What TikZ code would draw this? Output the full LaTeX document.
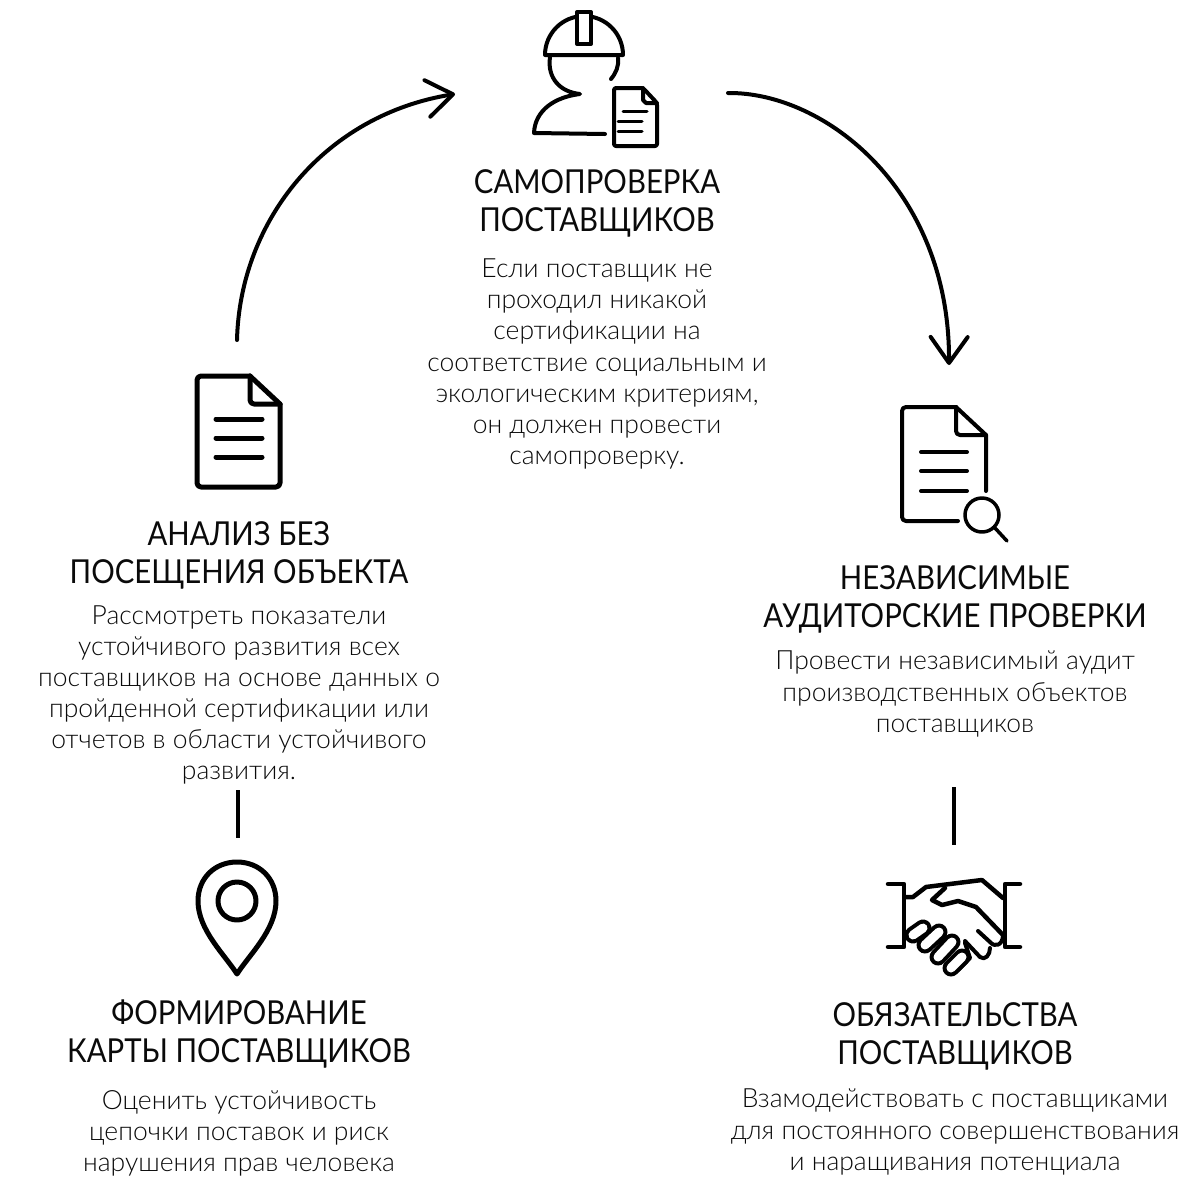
\documentclass[tikz,border=0pt]{standalone}
\usepackage{fontspec}
\setmainfont{Lato}[UprightFont=* Light]
\newfontfamily\titlefont{Lato}[FakeStretch=0.89]
\usepackage{xcolor}
\definecolor{InkBlack}{HTML}{000000}
\definecolor{TextBlack}{HTML}{0A0A0A}
\usepackage{tikz}
\usetikzlibrary{positioning,arrows.meta}

\tikzset{
  icon/.style={line width=#1, color=InkBlack, line cap=round, line join=round},
  icon/.default=4pt,
  finger/.style={line width=4pt, color=InkBlack, double=white, double distance=9pt, line cap=round},
  flow/.style={line width=4pt, color=InkBlack, line cap=round, -{Straight Barb[length=26pt,width=37pt,line width=4pt,round]}},
  divider/.style={line width=3.5pt, color=InkBlack},
  title/.style={font=\titlefont\fontsize{33pt}{38pt}\selectfont, color=TextBlack, align=center, inner sep=0pt},
  body/.style={font=\fontsize{26.5pt}{31.1pt}\selectfont, color=TextBlack, align=center, inner sep=0pt},
}

\begin{document}
\begin{tikzpicture}[x=1pt, y=-1pt]
    \useasboundingbox (0,0) rectangle (1200,1200);

    % Titles
    \node[title] (selfcheck) at (597,203) {САМОПРОВЕРКА\\ПОСТАВЩИКОВ};
    \node[title] (analysis) at (239,555) {АНАЛИЗ БЕЗ\\ПОСЕЩЕНИЯ ОБЪЕКТА};
    \node[title] (audit) at (955,599) {НЕЗАВИСИМЫЕ\\АУДИТОРСКИЕ ПРОВЕРКИ};
    \node[title] (mapping) at (239,1034) {ФОРМИРОВАНИЕ\\КАРТЫ ПОСТАВЩИКОВ};
    \node[title] (commit) at (955,1036) {ОБЯЗАТЕЛЬСТВА\\ПОСТАВЩИКОВ};

    % Body texts
    \node[body] (selfchecktext) at (597,364) {Если поставщик не\\проходил никакой\\сертификации на\\соответствие социальным и\\экологическим критериям,\\он должен провести\\самопроверку.};
    \node[body] (analysistext) at (239,695) {Рассмотреть показатели\\устойчивого развития всех\\поставщиков на основе данных о\\пройденной сертификации или\\отчетов в области устойчивого\\развития.};
    \node[body] (audittext) at (955,694) {Провести независимый аудит\\производственных объектов\\поставщиков};
    \node[body] (mappingtext) at (239,1133) {Оценить устойчивость\\цепочки поставок и риск\\нарушения прав человека};
    \node[body] (committext) at (955,1132) {Взамодействовать с поставщиками\\для постоянного совершенствования\\и наращивания потенциала};

    % Connectors
    \coordinate (leftstart) at (237,340);
    \coordinate (leftend) at (455,94);
    \coordinate (rightstart) at (728,93);
    \coordinate (rightend) at (949,365);
    \coordinate (leftbar) at (238,790);
    \coordinate (leftbarend) at (238,838);
    \coordinate (rightbar) at (954,787);
    \coordinate (rightbarend) at (954,845);
    \draw[flow] (leftstart) .. controls (240,220) and (325,115) .. (leftend);
    \draw[flow] (rightstart) .. controls (825,92) and (950,190) .. (rightend);
    \draw[divider] (leftbar) -- (leftbarend);
    \draw[divider] (rightbar) -- (rightbarend);

    % Worker icon
    \draw[icon] (545,55) arc (180:360:39) -- cycle;
    \draw[icon, fill=white] (577,12) rectangle (591,44);
    \draw[icon] (550,57) .. controls (547,78) and (560,92) .. (580,94)
      .. controls (555,97) and (535,110) .. (534,133) -- (605,134);
    \draw[icon] (618,58) .. controls (619,66) and (616,73) .. (611,79);
    \draw[icon, rounded corners=2pt] (643,88) -- (614,88) -- (614,146) -- (657,146) -- (657,103) -- cycle;
    \draw[icon] (643,88) -- (643,100) -- (646,103) -- (657,103);
    \draw[icon=3pt] (623,111) -- (647,111);
    \foreach \y in {121,131} {
      \draw[icon=3pt] (618,\y) -- (642,\y);
    }

    % Document icon
    \draw[icon=5pt, rounded corners=4pt] (250,376) -- (197,376) -- (197,487) -- (280,487) -- (280,404);
    \draw[icon=5pt] (280,404) -- (250,376);
    \draw[icon=5pt, rounded corners=4pt] (250,376) -- (250,404) -- (280,404);
    \foreach \y in {419,438,457} {
      \draw[icon=5pt] (216,\y) -- (262,\y);
    }

    % Audit icon
    \draw[icon, rounded corners=4pt] (958,521) -- (902,521) -- (902,407) -- (956,407);
    \draw[icon] (956,407) -- (986,435) -- (986,491);
    \draw[icon, rounded corners=4pt] (956,407) -- (956,435) -- (986,435);
    \foreach \y in {452,471,491} {
      \draw[icon] (921,\y) -- (967,\y);
    }
    \draw[icon=3.5pt] (982,515) circle (17);
    \draw[icon=3.5pt] (995,528) -- (1007,541);

    % Pin icon
    \draw[icon=5pt] (237,974) .. controls (225,955) and (198,930) .. (198,901)
      .. controls (198,878) and (215,862) .. (237,862)
      .. controls (259,862) and (276,878) .. (276,901)
      .. controls (276,930) and (249,955) .. (237,974) -- cycle;
    \draw[icon=5pt] (237,901) circle (19);

    % Handshake icon
    \draw[icon=4.5pt] (888,884) -- (904,884) -- (904,947) -- (888,947);
    \draw[icon=4.5pt] (1020,884) -- (1005,884) -- (1005,947) -- (1020,947);
    \draw[icon=4.5pt] (905,897) -- (913,897) -- (926,887) -- (982,880) -- (1003,898);
    \draw[icon=4.5pt] (945,888) -- (932,900) -- (942,905) -- (958,901) -- (976,907) -- (1003,935);
    \draw[icon] (1003,935) .. controls (1003,945) and (995,948) .. (990,942) -- (978,931);
    \draw[icon] (965,941) -- (980,957) .. controls (985,961) and (990,955) .. (990,948);
    \draw[icon] (965,943) -- (970,958) -- (958,970);
    \foreach \ax/\ay/\bx/\by in {951/968/962/957, 938/957/952/942, 925/945/939/932, 913/935/923/928} {
      \draw[finger] (\ax,\ay) -- (\bx,\by);
    }
\end{tikzpicture}
\end{document}
